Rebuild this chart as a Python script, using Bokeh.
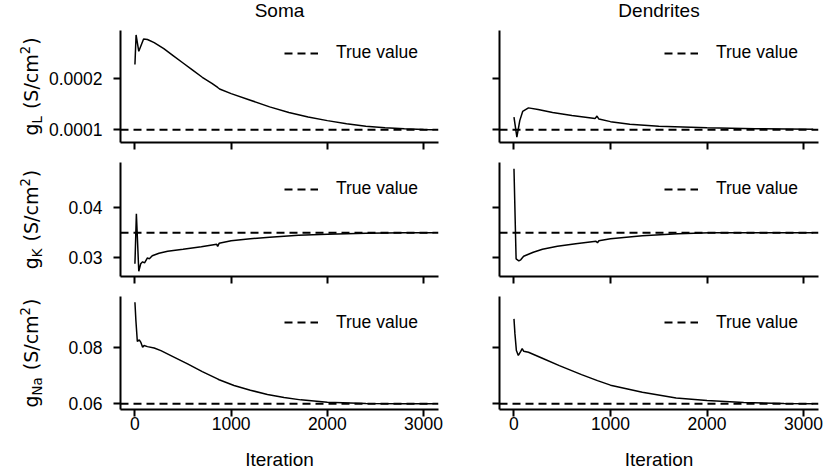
from math import pi
from bokeh.plotting import figure
from bokeh.layouts import column, row
from bokeh.models import FixedTicker, Legend, LegendItem, Range1d
from bokeh.core.properties import value
from bokeh.embed import file_html
from bokeh.resources import INLINE

FONT = "Liberation Sans"
LABEL_FONT = "DejaVu Sans"

# ---------------- data ----------------
col_titles = ["Soma", "Dendrites"]
param_subs = ["L", "K", "Na"]
true_values = [0.0001, 0.035, 0.06]
x_ticks = [0, 1000, 2000, 3000]
x_tick_labels = ["0", "1000", "2000", "3000"]
y_ticks = [[0.0001, 0.0002], [0.03, 0.04], [0.06, 0.08]]
y_tick_labels = [["0.0001", "0.0002"], ["0.03", "0.04"], ["0.06", "0.08"]]
x_limits = [-150, 3155]
y_limits = [[0.0000751, 0.0002947], [0.02626, 0.04906], [0.0580, 0.0979]]

soma_gL_iter = [0, 12, 40, 90, 130, 200, 300, 400, 500, 600, 700, 800, 860, 880,
                1000, 1200, 1400, 1600, 1800, 2000, 2200, 2400, 2600, 2800, 3000, 3100]
soma_gL = [0.000228, 0.000286, 0.000254, 0.000278, 0.000277, 0.000271, 0.000259,
           0.000245, 0.000231, 0.000217, 0.000203, 0.000191, 0.000183, 0.000180,
           0.000171, 0.000158, 0.000145, 0.000134, 0.000125, 0.000118, 0.000112,
           0.000107, 0.000104, 0.000102, 0.0001005, 0.0001]

soma_gK_iter = [0, 15, 40, 60, 80, 100, 130, 150, 180, 250, 340, 500, 690, 850, 860,
                875, 1000, 1200, 1400, 1700, 2000, 2400, 2800, 3100]
soma_gK = [0.0288, 0.0388, 0.0273, 0.0288, 0.0292, 0.0290, 0.0300, 0.0298, 0.0304,
           0.0309, 0.0313, 0.0317, 0.0322, 0.0327, 0.0323, 0.0329, 0.0334, 0.0338,
           0.0341, 0.0345, 0.0347, 0.0349, 0.0350, 0.0350]

soma_gNa_iter = [0, 10, 25, 45, 60, 80, 95, 130, 200, 270, 400, 547, 700, 858, 875,
                 1030, 1200, 1377, 1550, 1723, 2000, 2400, 2800, 3100]
soma_gNa = [0.0959, 0.0894, 0.0820, 0.0826, 0.0818, 0.0800, 0.0806, 0.0802, 0.0797,
            0.0788, 0.0766, 0.0741, 0.0714, 0.0688, 0.0685, 0.0665, 0.0648, 0.0633,
            0.0622, 0.0614, 0.0606, 0.0601, 0.0600, 0.0600]

dend_gL_iter = [0, 30, 60, 90, 150, 250, 400, 600, 840, 860, 880, 1000, 1200, 1500,
                2000, 2500, 3100]
dend_gL = [0.000125, 0.0000855, 0.000118, 0.000136, 0.000143, 0.000140, 0.000134,
           0.000128, 0.000122, 0.000127, 0.000121, 0.000116, 0.000111, 0.000107,
           0.000104, 0.000102, 0.000101]

dend_gK_iter = [0, 22, 50, 70, 100, 150, 200, 295, 450, 640, 850, 865, 880, 1000,
                1330, 1700, 2030, 3100]
dend_gK = [0.0478, 0.0298, 0.0294, 0.0296, 0.0303, 0.0307, 0.0311, 0.0317, 0.0323,
           0.0328, 0.0333, 0.0330, 0.0334, 0.0338, 0.0344, 0.0348, 0.0350, 0.0350]

dend_gNa_iter = [0, 10, 25, 45, 70, 85, 100, 150, 300, 470, 700, 865, 1000, 1330,
                 1680, 2000, 2380, 2800, 3100]
dend_gNa = [0.0900, 0.0847, 0.0788, 0.0771, 0.0785, 0.0795, 0.0786, 0.0782, 0.0760,
            0.0735, 0.0703, 0.0682, 0.0666, 0.0641, 0.0621, 0.0612, 0.0605, 0.0601,
            0.0600]

series = [
    [(soma_gL_iter, soma_gL), (dend_gL_iter, dend_gL)],
    [(soma_gK_iter, soma_gK), (dend_gK_iter, dend_gK)],
    [(soma_gNa_iter, soma_gNa), (dend_gNa_iter, dend_gNa)],
]

# ---------------- layout ----------------
TOTAL_W = 827
HEADER_H = 30
LABEL_COL_W = 45
col_widths = [405, 377]
col_border_left = [75, 49]
col_border_right = [12, 9]
row_heights = [120, 136, 186]
row_border_top = [0, 12, 10]
row_border_bottom = [8, 10, 63]
legend_center_from_top = [23.3, 27.3, 26.7]

TICK_PX = "17.5px"
LABEL_PX = "19px"

# DejaVu Sans advance widths (em)
ADV = {"g": 0.635, "L": 0.557, "K": 0.656, "N": 0.748, "a": 0.613, " ": 0.318,
       "(": 0.390, "S": 0.635, "/": 0.337, "c": 0.550, "m": 0.974, "2": 0.636,
       ")": 0.390}


def adv(txt, size):
    return sum(ADV[ch] for ch in txt) * size


def ylabel_pieces(sub):
    # (text, font px, baseline shift up, advance width)
    return [
        ("g", 19, 0, adv("g", 19)),
        (sub, 13.3, -4, adv(sub, 13.3) + 1 + adv(" ", 19)),
        ("(S/cm", 19, 0, adv("(S/cm", 19)),
        ("2", 13.3, 11, adv("2", 13.3) + 1),
        (")", 19, 0, adv(")", 19)),
    ]


def bare_figure(w, h, top=0, bottom=0):
    f = figure(width=w, height=h, x_range=Range1d(0, w),
               y_range=Range1d(0, h - top - bottom),
               output_backend="svg", toolbar_location=None,
               x_axis_type=None, y_axis_type=None, min_border=0,
               min_border_top=top, min_border_bottom=bottom)
    f.outline_line_color = None
    f.xgrid.visible = False
    f.ygrid.visible = False
    return f


# header with the column titles
header = bare_figure(TOTAL_W, HEADER_H)
x0 = LABEL_COL_W
title_x = []
for c in range(2):
    fl = x0 + col_border_left[c]
    fr = x0 + col_widths[c] - col_border_right[c]
    title_x.append((fl + fr) / 2)
    x0 += col_widths[c]
header.text(x=title_x, y=[HEADER_H - 9.5] * 2, text=col_titles,
            text_font=value(FONT), text_font_size=value(LABEL_PX), text_color="black",
            text_align="center", text_baseline="middle")

rows_layout = [header]
for r in range(3):
    fh = row_heights[r] - row_border_top[r] - row_border_bottom[r]
    # narrow figure (same frame rows as the plots) carrying the rotated y label
    lab = bare_figure(LABEL_COL_W, row_heights[r], row_border_top[r], row_border_bottom[r])
    pieces = ylabel_pieces(param_subs[r])
    total = sum(pc[3] for pc in pieces)
    ypos = fh / 2 - total / 2
    base_x = 37
    for txt, size, shift, w in pieces:
        lab.text(x=[base_x - shift + 0.236 * size], y=[ypos], text=[txt], angle=pi / 2,
                 text_font=value(LABEL_FONT), text_font_size=value(f"{size}px"),
                 text_color="black", text_align="left", text_baseline="bottom")
        ypos += w

    figs = [lab]
    for c in range(2):
        fw = col_widths[c] - col_border_left[c] - col_border_right[c]
        p = figure(width=col_widths[c], height=row_heights[r],
                   x_range=Range1d(x_limits[0], x_limits[1]),
                   y_range=Range1d(y_limits[r][0], y_limits[r][1]),
                   output_backend="svg", toolbar_location=None,
                   min_border_left=col_border_left[c], min_border_right=col_border_right[c],
                   min_border_top=row_border_top[r], min_border_bottom=row_border_bottom[r])
        p.outline_line_color = None
        p.xgrid.visible = False
        p.ygrid.visible = False
        p.background_fill_color = "white"
        p.border_fill_color = "white"

        for ax in (p.xaxis[0], p.yaxis[0]):
            ax.axis_line_width = 2
            ax.axis_line_color = "black"
            ax.major_tick_line_width = 2
            ax.major_tick_line_color = "black"
            ax.major_tick_out = 7
            ax.major_tick_in = 0
            ax.minor_tick_out = 0
            ax.minor_tick_in = 0
            ax.major_label_text_font = FONT
            ax.major_label_text_color = "black"

        xa = p.xaxis[0]
        xa.ticker = FixedTicker(ticks=x_ticks)
        if r == 2:
            xa.major_label_overrides = dict(zip(x_ticks, x_tick_labels))
            xa.major_label_text_font_size = TICK_PX
            xa.major_label_standoff = 0
            xa.axis_label = "Iteration"
            xa.axis_label_text_font = FONT
            xa.axis_label_text_font_size = LABEL_PX
            xa.axis_label_text_font_style = "normal"
            xa.axis_label_text_color = "black"
            xa.axis_label_standoff = 16
        else:
            xa.major_label_overrides = {t: "" for t in x_ticks}
            xa.major_label_text_font_size = "0px"
            xa.major_label_standoff = 0

        ya = p.yaxis[0]
        ya.ticker = FixedTicker(ticks=y_ticks[r])
        if c == 0:
            ya.major_label_overrides = dict(zip(y_ticks[r], y_tick_labels[r]))
            ya.major_label_text_font_size = TICK_PX
            ya.major_label_standoff = 11
        else:
            ya.major_label_overrides = {t: "" for t in y_ticks[r]}
            ya.major_label_text_font_size = "0px"
            ya.major_label_standoff = 0

        # true value reference line (legend)
        tv = true_values[r]
        dash_r = p.line(x_limits, [tv, tv], line_color="black", line_width=2,
                        line_dash="8 5")
        xs, ys = series[r][c]
        p.line(xs, ys, line_color="black", line_width=1.5)

        leg_w = 34 + 18 + 83
        vx = fw - 19 - leg_w
        vy = fh - (legend_center_from_top[r] + 10)
        legend = Legend(items=[LegendItem(label="True value", renderers=[dash_r])],
                        location=(vx, vy))
        legend.label_text_font = FONT
        legend.label_text_font_size = TICK_PX
        legend.label_text_color = "black"
        legend.glyph_width = 34
        legend.glyph_height = 20
        legend.label_height = 20
        legend.label_standoff = 18
        legend.padding = 0
        legend.margin = 0
        legend.spacing = 0
        legend.border_line_color = None
        legend.background_fill_alpha = 0
        p.add_layout(legend)
        figs.append(p)
    rows_layout.append(row(*figs))

layout = column(*rows_layout)
open("out.html", "w").write(file_html(layout, INLINE))
